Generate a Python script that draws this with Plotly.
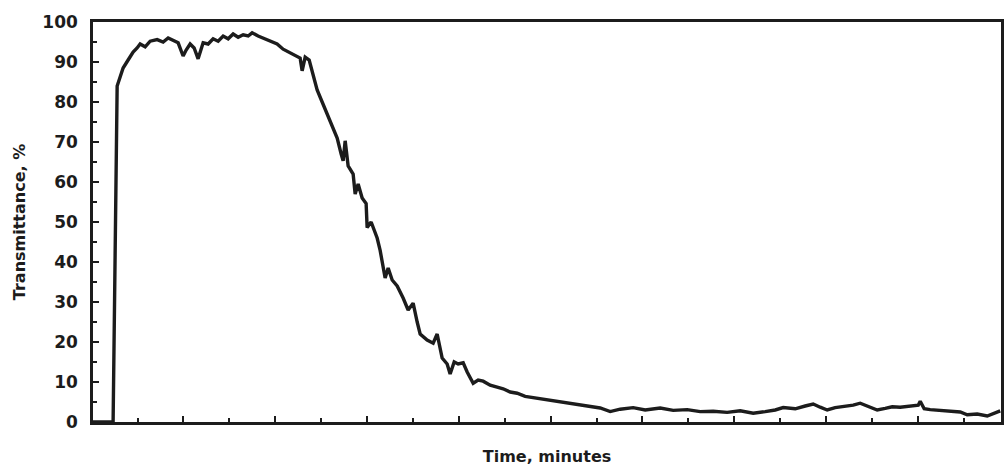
import plotly.graph_objects as go

# Time (tick units) and transmittance (%)
time_min = [0.03, 0.447, 0.468, 0.556, 0.686, 0.795, 0.904, 0.991, 1.057, 1.166,
            1.275, 1.427, 1.558, 1.667, 1.776, 1.885, 1.993, 2.059, 2.146, 2.233,
            2.320, 2.429, 2.538, 2.647, 2.756, 2.865, 2.974, 3.083, 3.192, 3.301,
            3.410, 3.497, 3.627, 3.736, 3.889, 4.041, 4.172, 4.325, 4.434, 4.542,
            4.586, 4.652, 4.739, 4.826, 4.913, 5.022, 5.131, 5.240, 5.349, 5.436,
            5.479, 5.523, 5.588, 5.697, 5.741, 5.806, 5.893, 5.980, 6.002, 6.089,
            6.220, 6.285, 6.394, 6.460, 6.547, 6.656, 6.786, 6.895, 7.004, 7.092,
            7.157, 7.309, 7.440, 7.527, 7.636, 7.745, 7.810, 7.898, 7.985, 8.094,
            8.181, 8.312, 8.420, 8.529, 8.682, 8.834, 8.965, 9.118, 9.270, 9.444,
            9.553, 9.771, 9.989, 10.207, 10.425, 10.643, 10.861, 11.078, 11.296, 11.514,
            11.797, 12.059, 12.386, 12.669, 12.974, 13.257, 13.540, 13.845, 14.129, 14.412,
            14.673, 14.891, 15.065, 15.327, 15.545, 15.719, 15.871, 16.024, 16.198, 16.416,
            16.590, 16.743, 16.917, 17.113, 17.288, 17.440, 17.614, 17.832, 18.007, 18.050,
            18.137, 18.268, 18.486, 18.704, 18.922, 19.074, 19.292, 19.510, 19.684, 19.793]

transmittance = [0.0, 0.0, 0.0, 84.0, 88.5, 90.5, 92.5, 93.5, 94.5, 93.8,
                 95.2, 95.6, 95.0, 96.0, 95.5, 94.8, 91.5, 93.0, 94.5, 93.5,
                 90.8, 94.8, 94.5, 95.8, 95.2, 96.5, 95.8, 97.0, 96.2, 96.8,
                 96.5, 97.3, 96.5, 96.0, 95.2, 94.5, 93.2, 92.3, 91.5, 91.0,
                 87.8, 91.2, 90.5, 86.5, 83.0, 80.0, 77.0, 73.5, 71.0, 67.0,
                 65.3, 70.3, 64.0, 62.0, 57.0, 59.5, 56.0, 54.6, 48.6, 50.0,
                 46.0, 42.9, 36.0, 38.5, 35.5, 34.0, 31.0, 28.0, 29.7, 25.0,
                 22.0, 20.5, 19.7, 22.0, 16.0, 14.5, 12.0, 15.0, 14.5, 14.8,
                 12.5, 9.7, 10.5, 10.2, 9.2, 8.7, 8.3, 7.5, 7.2, 6.4,
                 6.2, 5.8, 5.5, 5.2, 4.7, 4.2, 3.8, 3.5, 2.6, 3.2,
                 3.6, 3.0, 3.5, 2.9, 3.1, 2.6, 2.7, 2.4, 2.8, 2.2,
                 2.6, 3.0, 3.6, 3.3, 4.0, 4.5, 3.7, 3.0, 3.6, 4.0,
                 4.2, 4.7, 3.8, 3.0, 3.4, 3.8, 3.7, 3.9, 4.2, 5.2,
                 3.3, 3.1, 2.9, 2.7, 2.5, 1.8, 2.0, 1.5, 2.2, 2.8]

y_ticks = [0, 10, 20, 30, 40, 50, 60, 70, 80, 90, 100]

FONT = "DejaVu Sans, Arial, sans-serif"
INK = "#1c1c1c"

fig = go.Figure()
fig.add_trace(go.Scatter(
    x=time_min, y=transmittance, mode="lines",
    line=dict(color=INK, width=3.4), hoverinfo="skip", showlegend=False,
))

fig.update_layout(
    width=1004, height=470,
    margin=dict(l=93, r=3, t=22, b=48),
    paper_bgcolor="white", plot_bgcolor="white",
    font=dict(family=FONT, color=INK, size=17, weight="bold"),
)

fig.update_xaxes(
    range=[0.03, 19.81], showgrid=False, zeroline=False, automargin=False,
    showline=True, linecolor=INK, linewidth=2.5, mirror=True,
    ticks="inside", tick0=0, dtick=2, ticklen=6, tickwidth=2, tickcolor=INK,
    minor=dict(ticks="inside", dtick=1, tick0=0, ticklen=4, tickwidth=2, tickcolor=INK),
    showticklabels=False,
    title=dict(text="Time, minutes", font=dict(family=FONT, size=16, weight="bold", color=INK), standoff=28),
)

fig.update_yaxes(
    range=[0, 100], showgrid=False, zeroline=False, automargin=False,
    showline=True, linecolor=INK, linewidth=2.5, mirror=True,
    ticks="inside", tickvals=y_ticks, ticklen=6, tickwidth=2, tickcolor=INK,
    minor=dict(ticks="inside", dtick=5, tick0=0, ticklen=4, tickwidth=2, tickcolor=INK),
    tickfont=dict(family=FONT, size=17, weight="bold", color=INK),
    ticklabelstandoff=9,
    title=dict(text="Transmittance, %", font=dict(family=FONT, size=16, weight="bold", color=INK), standoff=13),
)

fig.write_html(
    "out.html",
    config={"displayModeBar": False},
    post_script="document.body.style.margin='0px'; document.body.style.overflow='hidden';",
)
